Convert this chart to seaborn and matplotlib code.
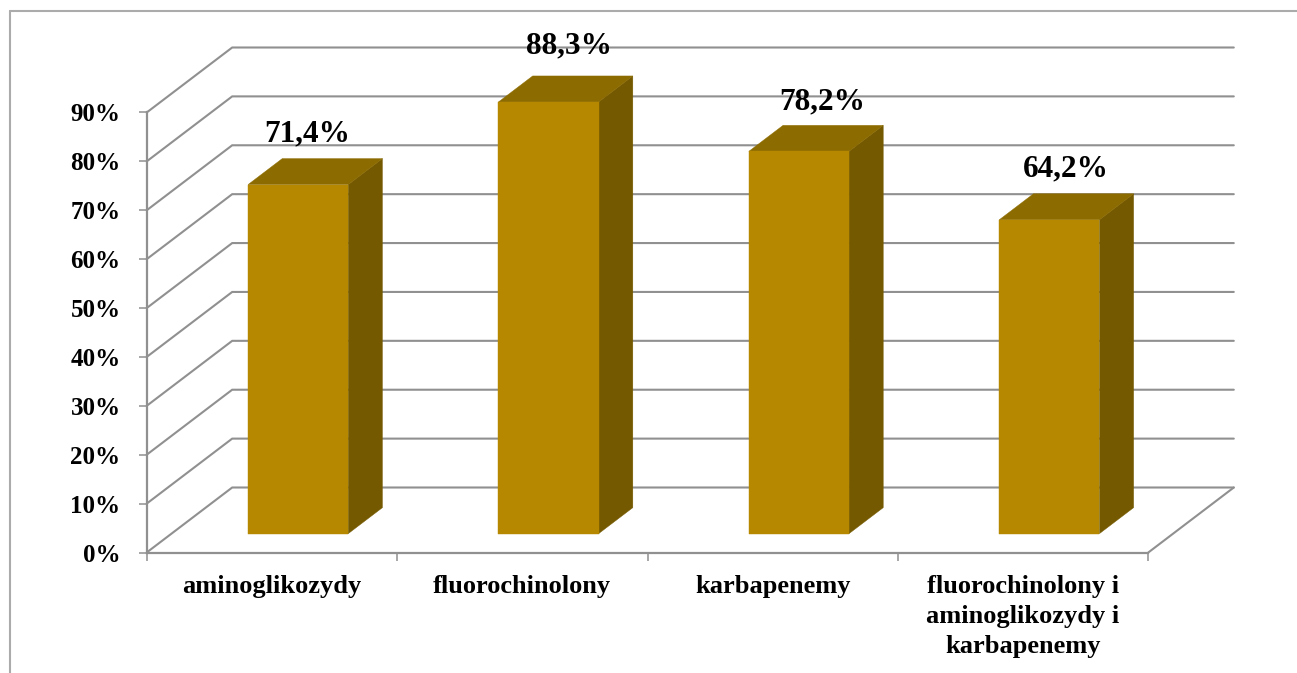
import matplotlib
matplotlib.use("Agg")
import matplotlib.pyplot as plt
from matplotlib.lines import Line2D
from matplotlib.transforms import Affine2D
import numpy as np
import pandas as pd
import seaborn as sns

categories = ["aminoglikozydy", "fluorochinolony", "karbapenemy",
              "fluorochinolony i\naminoglikozydy i\nkarbapenemy"]
values = [71.4, 88.3, 78.2, 64.2]
value_labels = ["71,4%", "88,3%", "78,2%", "64,2%"]
y_ticks = [0, 10, 20, 30, 40, 50, 60, 70, 80, 90]

# layout (pixels / styling)
W, H, DPI = 1297, 673, 100
FRONT, SIDE, TOP = "#B58800", "#745900", "#8C6B00"
GRID = "#909090"
label_shift_px = [(35.5, 25), (47, 30), (49.5, 23), (43, 25)]

sns.set_theme(style="white")
plt.rcParams["font.family"] = ["Liberation Serif", "DejaVu Serif"]

fig = plt.figure(figsize=(W / DPI, H / DPI), dpi=DPI, facecolor="white")
L, R, B, T = 146.7, 1148.3, 552.5, 112.5
ax = fig.add_axes([L / W, 1 - B / H, (R - L) / W, (B - T) / H])
ax.patch.set_alpha(0)

df = pd.DataFrame({"kategoria": categories, "procent": values})
sns.barplot(data=df, x="kategoria", y="procent", color=FRONT, saturation=1,
            width=0.4, ax=ax, zorder=5, edgecolor=FRONT, linewidth=0.3)
ax.set_xlim(-0.5, 3.5)
ax.set_ylim(0, 90)
ax.set_xlabel("")
ax.set_ylabel("")

ux = (R - L) / 4            # px per category
uy = (B - T) / 90           # px per percent
depth_x, depth_y = 85.5 / ux, 65.0 / uy
bar_start_x, bar_start_y, bar_depth = 0.307, 0.29, 0.40

# back wall, side wall, floor
for t in y_ticks:
    ax.plot([-0.5, -0.5 + depth_x, 3.5 + depth_x], [t, t + depth_y, t + depth_y],
            color=GRID, lw=1.5, clip_on=False, zorder=1, solid_joinstyle="miter")
ax.plot([3.5, 3.5 + depth_x], [0, depth_y], color=GRID, lw=1.5, clip_on=False, zorder=1)

# bars: front faces moved to their depth, then side and top faces
sx, sy = bar_start_x * depth_x, bar_start_y * depth_y
bx, by = bar_depth * depth_x, bar_depth * depth_y
shift = Affine2D().translate(sx, sy) + ax.transData
for patch, v in zip(ax.patches, values):
    patch.set_transform(shift)
    patch.set_clip_on(False)
    x0, w = patch.get_x() + sx, patch.get_width()
    x1 = x0 + w
    y0, y1 = sy, v + sy
    ax.fill([x1, x1 + bx, x1 + bx, x1], [y0, y0 + by, y1 + by, y1], color=SIDE,
            lw=0.3, clip_on=False, zorder=4)
    ax.fill([x0, x0 + bx, x1 + bx, x1], [y1, y1 + by, y1 + by, y1], color=TOP,
            lw=0.3, clip_on=False, zorder=4)

# value labels
for i, (v, s, (ox, oy)) in enumerate(zip(values, value_labels, label_shift_px)):
    ax.annotate(s, xy=(i, v + sy + by), xytext=(ox * 72 / DPI, oy * 72 / DPI),
                textcoords="offset points", ha="center", va="center",
                fontsize=22.5, fontweight="bold", color="black", annotation_clip=False, zorder=6)

# axes
for side in ["top", "right"]:
    ax.spines[side].set_visible(False)
for side in ["left", "bottom"]:
    ax.spines[side].set_color(GRID)
    ax.spines[side].set_linewidth(1.6)
    ax.spines[side].set_zorder(2)

ax.set_yticks(y_ticks)
ax.set_yticklabels([f"{t}%" for t in y_ticks], fontsize=18, fontweight="bold", color="black")
ax.tick_params(axis="y", length=5.8, width=1.1, color=GRID, pad=13, left=True)
ax.set_xticks(range(4))
ax.set_xticklabels(categories, fontsize=19, fontweight="bold", color="black", linespacing=1.38, va="top")
ax.tick_params(axis="x", which="major", length=0, pad=16.5)
ax.set_xticks(np.arange(-0.5, 4, 1), minor=True)
ax.tick_params(axis="x", which="minor", length=5.8, width=1.1, color=GRID, bottom=True)

# chart frame: left and top edges only
frame = dict(color="#ABABAB", lw=1.5, transform=fig.transFigure)
fig.add_artist(Line2D([10 / W, 10 / W], [0, 1 - 11 / H], **frame))
fig.add_artist(Line2D([10 / W, 1], [1 - 11 / H, 1 - 11 / H], **frame))

fig.savefig("out.png", dpi=DPI)
